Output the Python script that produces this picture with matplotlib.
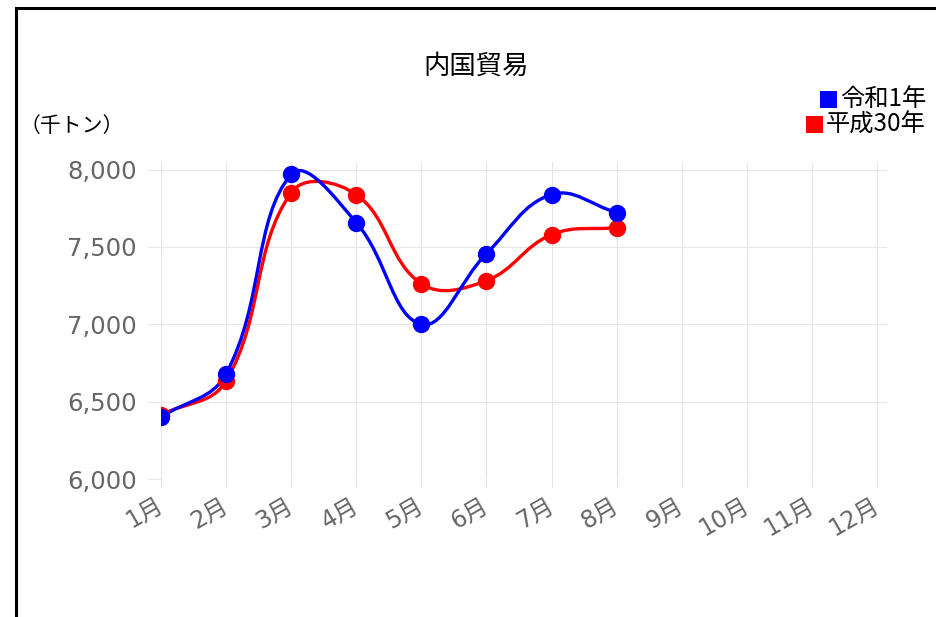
import numpy as np
import matplotlib.pyplot as plt
from matplotlib.path import Path
from matplotlib.patches import PathPatch, Rectangle

plt.rcParams['font.family'] = ['Noto Sans CJK JP', 'DejaVu Sans']

# data (thousand tons)
months = ["1月", "2月", "3月", "4月", "5月", "6月", "7月", "8月", "9月", "10月", "11月", "12月"]
reiwa1 = [6400, 6680, 7968, 7657, 7000, 7456, 7838, 7722]
heisei30 = [6414, 6634, 7851, 7838, 7262, 7282, 7579, 7625]
yticks = [6000, 6500, 7000, 7500, 8000]

W, H = 936, 617
GRID = "#e6e6e6"


def fx(px):
    return px / W


def fy(py):
    return 1 - py / H


def spline_path(ax, xs, ys, t=0.4):
    # chart.js style bezier, control points computed in pixel space
    trans = ax.transData
    p = trans.transform(np.column_stack([xs, ys]))
    n = len(p)
    cin = []
    cout = []
    for i in range(n):
        prev = p[i - 1] if i > 0 else p[i]
        nxt = p[i + 1] if i < n - 1 else p[i]
        d01 = np.hypot(*(p[i] - prev))
        d12 = np.hypot(*(nxt - p[i]))
        s = d01 + d12
        s01 = d01 / s if s else 0
        s12 = d12 / s if s else 0
        cin.append(p[i] - t * s01 * (nxt - prev))
        cout.append(p[i] + t * s12 * (nxt - prev))
    verts = [p[0]]
    codes = [Path.MOVETO]
    for i in range(n - 1):
        verts += [cout[i], cin[i + 1], p[i + 1]]
        codes += [Path.CURVE4] * 3
    verts = trans.inverted().transform(np.array(verts))
    return Path(verts, codes)


fig = plt.figure(figsize=(W / 100, H / 100), dpi=100)
ax = fig.add_axes([fx(161), fy(479), fx(887) - fx(161), (479 - 162) / H])

x = np.arange(len(months))
ax.set_xlim(0, 11 + 10 / 65.1)
ax.set_ylim(6000, 8000 + 7.5 * 2000 / 309.5)

for vals, col in [(heisei30, "#ff0000"), (reiwa1, "#0000ff")]:
    xs = x[:len(vals)]
    path = spline_path(ax, xs, vals)
    ax.add_patch(PathPatch(path, facecolor="none", edgecolor=col, lw=2.4, zorder=3))
    ax.plot(xs, vals, "o", color=col, ms=11.5, zorder=4)

ax.set_xticks(x)
ax.set_xticklabels(months)
ax.set_yticks(yticks)
ax.set_yticklabels([f"{v:,}" for v in yticks])
ax.grid(True, color=GRID, lw=0.8)
ax.set_axisbelow(True)
for s in ax.spines.values():
    s.set_visible(False)
ax.tick_params(axis="y", length=9.5, width=0.8, color=GRID, pad=8,
               labelsize=17.5, labelcolor="#666666")
ax.tick_params(axis="x", length=6.5, width=0.8, color=GRID, pad=11,
               labelsize=17, labelcolor="#666666")
plt.setp(ax.get_xticklabels(), rotation=30, ha="right", va="center",
         rotation_mode="anchor")
for lab in ax.get_xticklabels() + ax.get_yticklabels():
    lab.set_fontfamily(["DejaVu Sans", "Noto Sans CJK JP"])

fig.text(fx(476), fy(66), "内国貿易", ha="center", va="center", fontsize=19)
fig.text(fx(20), fy(126), "（千トン）", ha="left", va="center", fontsize=15)

# legend, right aligned
renderer = fig.canvas.get_renderer()
for label, col, yc in [("令和1年", "#0000ff", 99), ("平成30年", "#ff0000", 124.5)]:
    t = fig.text(fx(926), fy(yc), label, ha="right", va="center", fontsize=17.5)
    bb = t.get_window_extent(renderer)
    sq = 17
    fig.patches.append(Rectangle((bb.x0 - 3 - sq, (H - yc) - sq / 2), sq, sq,
                                 transform=None, facecolor=col, edgecolor="none"))

# outer frame (only top/left visible)
fig.patches.append(Rectangle((15.5, -20), W + 40, H - 7.5 + 20, transform=None,
                             facecolor="none", edgecolor="black", lw=2.2))

fig.savefig("out.png", dpi=100)
